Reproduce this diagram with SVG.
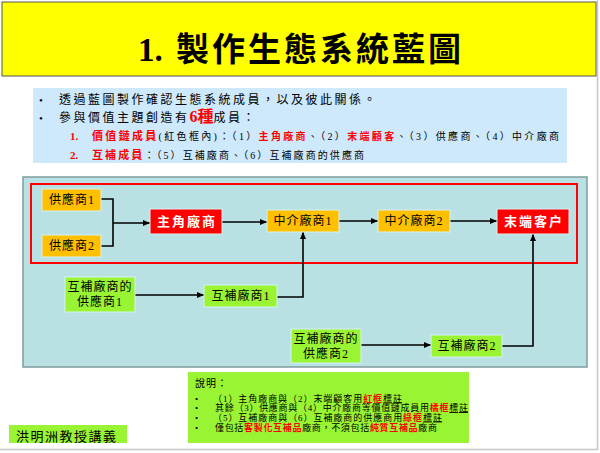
<svg xmlns="http://www.w3.org/2000/svg" width="600" height="453" viewBox="0 0 600 453">
<style>
text{font-family:"Liberation Serif","Noto Sans CJK TC",serif;fill:#000}
.r{fill:#ff0000;font-weight:bold}
.node-o{fill:#ffc000;stroke:#d6f2f4;stroke-width:1}
.node-r{fill:#ff0000;stroke:#d6f2f4;stroke-width:1}
.node-g{fill:#99f533;stroke:#d6f2f4;stroke-width:1}
.nt{font-size:12px;text-anchor:middle;letter-spacing:1px}
.wt{font-size:13px;text-anchor:middle;fill:#fff;font-weight:bold;letter-spacing:2px}
.conn path{fill:none;stroke:#000;stroke-width:1.6}
.lg{font-size:9px}
</style>
<defs>
<marker id="ah" markerUnits="userSpaceOnUse" markerWidth="8" markerHeight="8" refX="7" refY="4" orient="auto">
<path d="M0,1 L7,4 L0,7 z" fill="#000"/>
</marker>
</defs>
<rect x="0" y="0" width="600" height="453" fill="#fff"/>
<line x1="597.5" y1="0" x2="597.5" y2="450" stroke="#c8c8c8" stroke-width="1.5"/>
<line x1="0" y1="449.5" x2="598" y2="449.5" stroke="#c8c8c8" stroke-width="1.5"/>

<g id="title">
<rect x="2" y="2" width="594" height="74" fill="#ffff00" stroke="#555" stroke-width="1"/>
<text x="138" y="61" font-size="33" font-weight="bold">1.<tspan x="176" letter-spacing="3">製作生態系統藍圖</tspan></text>
</g>

<g id="intro">
<rect x="33" y="88" width="534" height="75" fill="#cde9fb"/>
<text x="39" y="104" font-size="11">•</text>
<text x="59" y="104" font-size="12" letter-spacing="2.5">透過藍圖製作確認生態系統成員，以及彼此關係。</text>
<text x="39" y="122" font-size="11">•</text>
<text x="59" y="122" font-size="12" letter-spacing="2.5">參與價值主題創造有<tspan class="r" font-size="16" letter-spacing="0">6種</tspan>成員：</text>
<text x="70" y="140" font-size="11" class="r">1.</text>
<text x="92" y="140" font-size="10" textLength="467" lengthAdjust="spacing"><tspan class="r" font-size="11">價值鏈成員</tspan>(紅色框內)：（1）<tspan class="r">主角廠商</tspan>、（2）<tspan class="r">末端顧客</tspan>、（3）供應商、（4）中介廠商</text>
<text x="70" y="159" font-size="11" class="r">2.</text>
<text x="92" y="159" font-size="10" textLength="272" lengthAdjust="spacing"><tspan class="r" font-size="11">互補成員</tspan>：（5）互補廠商、（6）互補廠商的供應商</text>
</g>

<g id="panel">
<rect x="23" y="177" width="564" height="190" fill="#b9e0e3" stroke="#7f9c9e" stroke-width="1.5"/>
<rect x="31" y="184" width="546" height="79" fill="none" stroke="#ff0000" stroke-width="2"/>
</g>

<g class="conn" id="connectors">
<path d="M101,199 H113 V246 H101"/>
<path d="M113,223 H150" marker-end="url(#ah)"/>
<path d="M222,222 H267" marker-end="url(#ah)"/>
<path d="M339,221 H378" marker-end="url(#ah)"/>
<path d="M450,221 H497" marker-end="url(#ah)"/>
<path d="M135,295 H204" marker-end="url(#ah)"/>
<path d="M277,297 H303 V232" marker-end="url(#ah)"/>
<path d="M361,345 H431" marker-end="url(#ah)"/>
<path d="M502,346 H533 V234" marker-end="url(#ah)"/>
</g>

<g id="supplier1">
<rect class="node-o" x="42" y="189" width="59" height="22"/>
<text class="nt" x="72" y="204">供應商1</text>
</g>
<g id="supplier2">
<rect class="node-o" x="42" y="235" width="59" height="22"/>
<text class="nt" x="72" y="250">供應商2</text>
</g>
<g id="focal">
<rect class="node-r" x="150" y="209" width="72" height="25"/>
<text class="wt" x="187" y="226">主角廠商</text>
</g>
<g id="intermediary1">
<rect class="node-o" x="267" y="210" width="72" height="22"/>
<text class="nt" x="303" y="225">中介廠商1</text>
</g>
<g id="intermediary2">
<rect class="node-o" x="378" y="210" width="72" height="22"/>
<text class="nt" x="414" y="225">中介廠商2</text>
</g>
<g id="endcustomer">
<rect class="node-r" x="497" y="209" width="72" height="25"/>
<text class="wt" x="534" y="226">末端客户</text>
</g>
<g id="compsupplier1">
<rect class="node-g" x="65" y="277" width="70" height="35"/>
<text class="nt" x="100" y="291" font-size="11">互補廠商的</text>
<text class="nt" x="100" y="306" font-size="11">供應商1</text>
</g>
<g id="complement1">
<rect class="node-g" x="204" y="285" width="73" height="22"/>
<text class="nt" x="241" y="300">互補廠商1</text>
</g>
<g id="compsupplier2">
<rect class="node-g" x="291" y="329" width="70" height="34"/>
<text class="nt" x="326" y="343" font-size="11">互補廠商的</text>
<text class="nt" x="326" y="358" font-size="11">供應商2</text>
</g>
<g id="complement2">
<rect class="node-g" x="431" y="335" width="71" height="22"/>
<text class="nt" x="467" y="350">互補廠商2</text>
</g>

<g id="legend">
<rect x="188" y="372" width="281" height="71" fill="#99f533"/>
<text x="195" y="387" font-size="10" letter-spacing="1">說明：</text>
<text x="195" y="401.5" class="lg">•</text>
<text x="213" y="401.5" class="lg" textLength="189" lengthAdjust="spacing">（1）主角廠商與（2）末端顧客用<tspan class="r">紅框</tspan><tspan text-decoration="underline">標註</tspan></text>
<text x="195" y="411" class="lg">•</text>
<text x="215" y="411" class="lg" textLength="253" lengthAdjust="spacing">其餘（3）供應商與（4）中介廠商等價值鏈成員用<tspan class="r">橘框</tspan><tspan text-decoration="underline">標註</tspan></text>
<text x="195" y="420.5" class="lg">•</text>
<text x="213" y="420.5" class="lg" textLength="229" lengthAdjust="spacing">（5）互補廠商與（6）互補廠商的供應商用<tspan class="r">綠框</tspan><tspan text-decoration="underline">標註</tspan></text>
<text x="195" y="430.5" class="lg">•</text>
<text x="215" y="430.5" class="lg" textLength="222" lengthAdjust="spacing">僅包括<tspan class="r">客製化互補品</tspan>廠商，不須包括<tspan class="r">純質互補品</tspan>廠商</text>
</g>

<g id="footer">
<rect x="9" y="425" width="118" height="18" fill="#99f533"/>
<text x="16" y="441" font-size="13" letter-spacing="1.5">洪明洲教授講義</text>
</g>
</svg>
